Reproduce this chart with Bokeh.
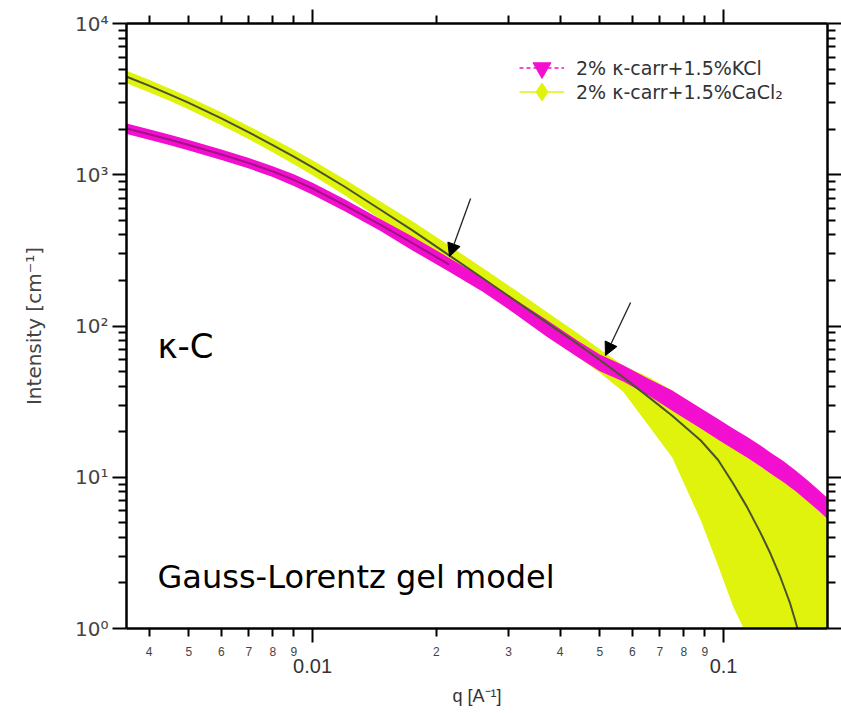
import numpy as np
from bokeh.plotting import figure
from bokeh.models import (LogAxis, FixedTicker, Range1d, Label, Arrow, NormalHead,
                          Legend, LegendItem)
from bokeh.embed import file_html
from bokeh.resources import INLINE

# ---------------- data ----------------
# 2% k-carr + 1.5% KCl (magenta)
q_kcl = [0.00353, 0.0040, 0.0045, 0.0050, 0.0060, 0.0070, 0.0080, 0.0090, 0.010, 0.012,
         0.0146, 0.0175, 0.0215, 0.026, 0.031, 0.037, 0.044, 0.050, 0.057, 0.066,
         0.075, 0.088, 0.097, 0.1055, 0.114, 0.123, 0.130, 0.140, 0.150, 0.160, 0.170, 0.179]
I_kcl = [2023, 1854, 1702, 1574, 1361, 1194, 1052, 925, 811, 628,
         468, 353, 255, 188, 136, 98, 71.5, 57.5, 49, 39.5,
         32.5, 24.8, 21.0, 18.2, 16.0, 14.0, 12.6, 11.0, 9.55, 8.24, 7.15, 6.3]
err_kcl = [162, 148, 136, 126, 109, 96, 84, 83, 73, 57,
           42, 37, 27, 20, 15, 12.3, 9, 7.2, 6.1, 5.0,
           5.0, 3.8, 3.3, 2.8, 2.5, 2.2, 2.0, 1.75, 1.5, 1.3, 1.12, 1.0]
kcl_fit_qmax = 0.0215

# 2% k-carr + 1.5% CaCl2 (yellow): data with error, and its Gauss-Lorentz fit
q_ca = [0.00353, 0.0040, 0.0045, 0.0050, 0.0060, 0.0070, 0.0080, 0.0090, 0.010, 0.012,
        0.0146, 0.0175, 0.0215, 0.026, 0.031, 0.037, 0.044, 0.050, 0.057, 0.066,
        0.075, 0.088, 0.097, 0.1055, 0.114, 0.123, 0.130, 0.137, 0.145, 0.1495,
        0.155, 0.165, 0.179]
I_ca = [4446, 3882, 3388, 2985, 2356, 1905, 1571, 1318, 1119, 830,
        589, 429, 293, 206, 148, 106, 76.6, 59.6, 45.8, 33.6,
        25.5, 16.6, 12.3, 8.6, 7.2, 6.0, 5.4, 5.0, 4.5, 4.2,
        3.9, 3.3, 2.7]
err_ca = [420, 365, 320, 285, 230, 190, 165, 145, 128, 102,
          80, 63, 47, 35, 26, 18.5, 13.5, 10.5, 9.0, 12,
          12, 11.4, 9.7, 7.2, 6.3, 5.8, 5.2, 4.8, 4.2, 3.9,
          3.7, 3.2, 2.6]
I_ca_fit = [4446, 3882, 3388, 2985, 2356, 1905, 1571, 1318, 1119, 830,
            589, 429, 293, 206, 148, 106, 76.6, 59.6, 45.8, 33.6,
            25.5, 17.5, 13.0, 9.1, 6.37, 4.29, 3.13, 2.24, 1.48, 1.12,
            0.79, 0.40, 0.14]

# axes / tick labels
x_lab_ticks = [0.004, 0.005, 0.006, 0.007, 0.008, 0.009,
               0.02, 0.03, 0.04, 0.05, 0.06, 0.07, 0.08, 0.09]
x_lab_text = ["4", "5", "6", "7", "8", "9", "2", "3", "4", "5", "6", "7", "8", "9"]
x_decades = [0.01, 0.1]
x_decade_text = ["0.01", "0.1"]
y_decades = [1, 10, 100, 1000, 10000]
y_decade_text = ["10\u2070", "10\u00b9", "10\u00b2", "10\u00b3", "10\u2074"]
y_minor = [m * d for d in [1, 10, 100, 1000] for m in range(2, 10)]

leg_kcl = "2% \u03ba-carr+1.5%KCl"
leg_ca = "2% \u03ba-carr+1.5%CaCl\u2082"

MAGENTA = "#f30fcf"
YELLOW = "#dff30c"
FIT = "#4b5230"
KFIT = "#8c1474"

# ---------------- figure ----------------
p = figure(width=841, height=713, x_axis_type="log", y_axis_type="log",
           x_range=Range1d(0.003526, 0.179), y_range=Range1d(1, 1e4),
           x_axis_location=None, y_axis_location=None,
           output_backend="svg", toolbar_location=None,
           min_border_left=126, min_border_right=14, min_border_top=23, min_border_bottom=85,
           background_fill_color="white", border_fill_color="white")
p.outline_line_color = None
p.grid.visible = False

qk = np.array(q_kcl); Ik = np.array(I_kcl); ek = np.array(err_kcl)
qc = np.array(q_ca); Ic = np.array(I_ca); ec = np.array(err_ca)

# yellow band (CaCl2); its own legend line/markers lie inside it (same colour)
p.varea(x=qc, y1=np.maximum(Ic - ec, 0.05), y2=Ic + ec, fill_color=YELLOW)
rc_line = p.line(qc, Ic, line_color=YELLOW, line_width=1.5)
rc_mark = p.scatter(qc, Ic, marker="diamond", size=0, fill_color=YELLOW, line_color=YELLOW)
# magenta band (KCl) on top
p.varea(x=qk, y1=np.maximum(Ik - ek, 0.05), y2=Ik + ek, fill_color=MAGENTA)
rk_line = p.line(qk, Ik, line_color=MAGENTA, line_dash="4 3", line_width=1.5)
rk_mark = p.scatter(qk, Ik, marker="inverted_triangle", size=0, fill_color=MAGENTA, line_color=MAGENTA)
mk = qk <= kcl_fit_qmax
p.line(qk[mk], Ik[mk], line_color=KFIT, line_width=2, line_alpha=0.8)
p.line(qc, I_ca_fit, line_color=FIT, line_width=2)

# arrows
for xs, ys, xe, ye in [(0.02424, 697, 0.02154, 288), (0.0594, 143, 0.0516, 63.8)]:
    p.add_layout(Arrow(end=NormalHead(size=13, fill_color="black", line_color="black"),
                       x_start=xs, y_start=ys, x_end=xe, y_end=ye,
                       line_color="#222222", line_width=1.3))

# annotation texts
p.add_layout(Label(x=0.004196, y=74.3, text="\u03ba-C", text_font="DejaVu Sans",
                   text_font_size="34px", text_color="black", text_baseline="alphabetic"))
p.add_layout(Label(x=0.004196, y=2.174, text="Gauss-Lorentz gel model", text_font="DejaVu Sans",
                   text_font_size="32px", text_color="black", text_baseline="alphabetic"))

# ---------------- axes ----------------
common = dict(axis_line_width=2.5, axis_line_color="black",
              major_tick_line_width=2, minor_tick_line_width=2,
              major_tick_line_color="black", minor_tick_line_color="black",
              major_tick_in=0, minor_tick_in=0)

xb = LogAxis(ticker=FixedTicker(ticks=x_lab_ticks, minor_ticks=x_decades),
             major_label_overrides=dict(zip(x_lab_ticks, x_lab_text)),
             major_tick_out=8, minor_tick_out=14, major_label_standoff=4,
             major_label_text_font="Liberation Sans", major_label_text_font_size="12px",
             major_label_text_color="#444444", **common)
p.add_layout(xb, "below")
xb2 = LogAxis(ticker=FixedTicker(ticks=x_decades, minor_ticks=[]),
              major_label_overrides=dict(zip(x_decades, x_decade_text)),
              axis_line_color=None, major_tick_line_color=None, minor_tick_line_color=None,
              major_tick_out=0, major_tick_in=0, minor_tick_out=0, minor_tick_in=0,
              major_label_standoff=0,
              major_label_text_font="Liberation Sans", major_label_text_font_size="20px",
              major_label_text_color="#333333",
              axis_label="q [A\u207b\u00b9]", axis_label_standoff=10,
              axis_label_text_font="Liberation Sans", axis_label_text_font_size="18px",
              axis_label_text_font_style="normal", axis_label_text_color="#333333")
p.add_layout(xb2, "below")
xt = LogAxis(ticker=FixedTicker(ticks=x_lab_ticks, minor_ticks=x_decades),
             major_label_overrides={t: "" for t in x_lab_ticks},
             major_tick_out=8, minor_tick_out=14, major_label_standoff=0,
             major_label_text_font_size="0px", **common)
p.add_layout(xt, "above")

yl = LogAxis(ticker=FixedTicker(ticks=y_decades, minor_ticks=y_minor),
             major_label_overrides=dict(zip(y_decades, y_decade_text)),
             major_tick_out=14, minor_tick_out=8, major_label_standoff=4,
             major_label_text_font="DejaVu Sans", major_label_text_font_size="20px",
             major_label_text_color="#444444",
             axis_label="Intensity [cm\u207b\u00b9]", axis_label_standoff=26,
             axis_label_text_font="DejaVu Sans", axis_label_text_font_size="20px",
             axis_label_text_font_style="normal", axis_label_text_color="#444444", **common)
p.add_layout(yl, "left")
yr = LogAxis(ticker=FixedTicker(ticks=y_decades, minor_ticks=y_minor),
             major_label_overrides={t: "" for t in y_decades},
             major_tick_out=14, minor_tick_out=8, major_label_standoff=0,
             major_label_text_font_size="0px", **common)
p.add_layout(yr, "right")

# ---------------- legend (one box per row, so markers can be large) ----------------
leg_style = dict(glyph_width=45, glyph_height=45, label_standoff=12,
                 label_text_font="DejaVu Sans", label_text_font_size="19px",
                 label_text_color="#333333", border_line_color=None,
                 background_fill_alpha=0, padding=0, margin=0)
p.add_layout(Legend(items=[LegendItem(label=leg_kcl, renderers=[rk_line, rk_mark])],
                    location=(393, 538), **leg_style))
p.add_layout(Legend(items=[LegendItem(label=leg_ca, renderers=[rc_line, rc_mark])],
                    location=(393, 514), **leg_style))

open("out.html", "w").write(file_html(p, INLINE))
